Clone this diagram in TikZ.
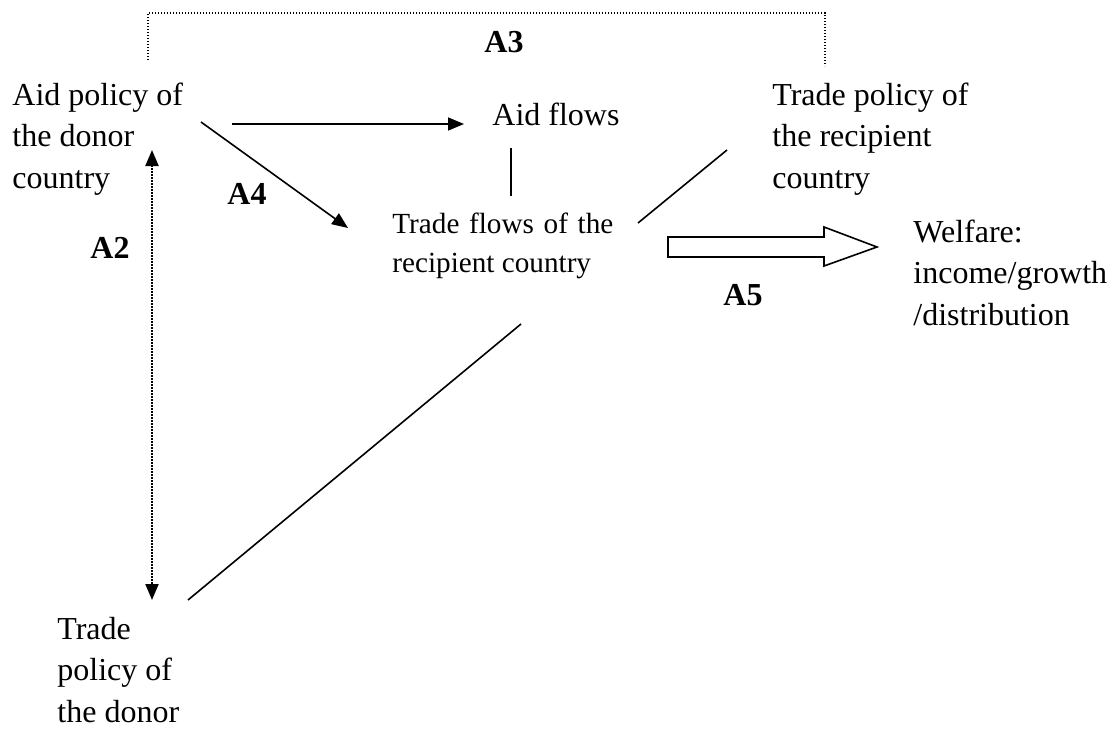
\documentclass[tikz,border=0pt]{standalone}
\usepackage{fontspec}
\setmainfont{Liberation Serif}
\usetikzlibrary{arrows.meta}
\begin{document}
\begin{tikzpicture}[x=0.5pt,y=-0.5pt,
  txt/.style={anchor=base west,inner sep=0pt,align=left,font=\fontsize{16}{20.7}\selectfont},
  small/.style={anchor=base west,inner sep=0pt,align=left,font=\fontsize{14.6}{19.5}\selectfont},
  lbl/.style={anchor=base west,inner sep=0pt,font=\fontsize{16}{21}\selectfont\bfseries},
  conn/.style={line width=0.8pt},
  arr/.style={line width=0.8pt,-{Triangle[length=8pt,width=6.5pt]}},
  dots/.style={line width=1.1pt,dash pattern=on 0.7pt off 0.8pt},
  hollow/.style={line width=0.8pt,fill=white}]
\useasboundingbox (0,0) rectangle (1115,729);
% text nodes (anchored at the baseline of their last line)
\node[txt] (aidpol) at (12,188) {Aid policy of\\the donor\\country};
\node[txt] (aidflows) at (492,125) {Aid flows};
\node[small] (tradeflows) at (392,272) {\makebox[110.5pt][s]{Trade flows of the}\\recipient country};
\node[txt] (tradepolrec) at (772,188) {Trade policy of\\the recipient\\country};
\node[txt] (welfare) at (913,325) {Welfare:\\income/growth\\/distribution};
\node[txt] (tradepoldon) at (57,722) {Trade\\policy of\\the donor};
% labels
\node[lbl] (A3) at (484,52) {A3};
\node[lbl] (A4) at (227,204) {A4};
\node[lbl] (A2) at (90,258) {A2};
\node[lbl] (A5) at (723,305) {A5};
% connector end points
\coordinate (brL) at (148,60);
\coordinate (brLt) at (148,13);
\coordinate (brRt) at (825,13);
\coordinate (brR) at (825,66);
\coordinate (a1s) at (232,124);
\coordinate (a1e) at (464,124);
\coordinate (v1s) at (511,148);
\coordinate (v1e) at (511,196);
\coordinate (a4s) at (201,122);
\coordinate (a4e) at (348,228);
\coordinate (r1s) at (638,223);
\coordinate (r1e) at (727,150);
\coordinate (a2t) at (152,150);
\coordinate (a2b) at (152,600);
\coordinate (d1s) at (188,600);
\coordinate (d1e) at (521,324);
\coordinate (a5s) at (668,247);
% connectors
\draw[dots] (brL) -- (brLt) -- (brRt) -- (brR);
\draw[arr] (a1s) -- (a1e);
\draw[conn] (v1s) -- (v1e);
\draw[arr] (a4s) -- (a4e);
\draw[conn] (r1s) -- (r1e);
\draw[dots,{Triangle[length=8pt,width=6.5pt]}-{Triangle[length=8pt,width=6.5pt]}] (a2t) -- (a2b);
\draw[conn] (d1s) -- (d1e);
\draw[hollow] (a5s) ++(0,-10) -- ++(156,0) -- ++(0,-10) -- ++(53,20) -- ++(-53,19) -- ++(0,-9) -- ++(-156,0) -- cycle;
\end{tikzpicture}
\end{document}
